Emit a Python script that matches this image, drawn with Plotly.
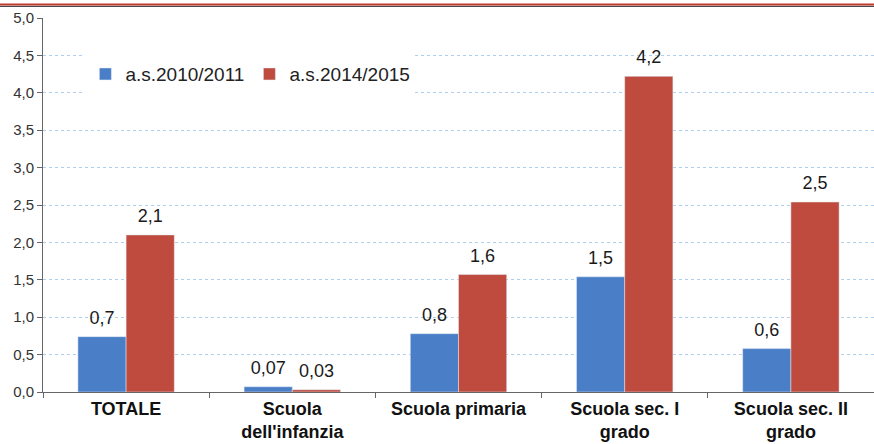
import plotly.graph_objects as go

categories = ["TOTALE", "Scuola<br>dell'infanzia", "Scuola primaria", "Scuola sec. I<br>grado", "Scuola sec. II<br>grado"]
series_2010 = [0.74, 0.07, 0.78, 1.54, 0.58]
series_2014 = [2.1, 0.03, 1.57, 4.22, 2.54]
labels_2010 = ["0,7", "0,07", "0,8", "1,5", "0,6"]
labels_2014 = ["2,1", "0,03", "1,6", "4,2", "2,5"]
tick_vals = [0, 0.5, 1, 1.5, 2, 2.5, 3, 3.5, 4, 4.5, 5]
tick_text = ["0,0", "0,5", "1,0", "1,5", "2,0", "2,5", "3,0", "3,5", "4,0", "4,5", "5,0"]

font = "Liberation Sans, Arial, sans-serif"
blue = "#4A7EC7"
red = "#BE4B3E"

fig = go.Figure()
fig.add_trace(go.Bar(x=categories, y=series_2010, name="a.s.2010/2011", marker_color=blue))
fig.add_trace(go.Bar(x=categories, y=series_2014, name="a.s.2014/2015", marker_color=red))
# value labels, grouped the same way as the bars
for vals, labs in [(series_2010, labels_2010), (series_2014, labels_2014)]:
    fig.add_trace(go.Scatter(x=categories, y=vals, text=labs, mode="markers+text",
                             textposition="top center", marker=dict(size=12, opacity=0),
                             textfont=dict(size=18, color="#1a1a1a", family=font),
                             showlegend=False, hoverinfo="skip", cliponaxis=False))

fig.update_layout(
    width=874, height=444,
    margin=dict(l=43, r=0, t=18, b=52),
    paper_bgcolor="white", plot_bgcolor="white",
    font=dict(family=font, color="#222"),
    barmode="group", bargap=0.42, bargroupgap=0,
    scattermode="group", scattergap=0.42,
    showlegend=True,
    legend=dict(orientation="h", x=0.051, y=0.85, xanchor="left", yanchor="middle",
                bgcolor="white", font=dict(size=19), itemwidth=30, traceorder="normal"),
    xaxis=dict(showline=True, linecolor="#666", linewidth=1, ticks="outside",
               tickson="boundaries", ticklen=5, tickcolor="#666", automargin=False,
               tickfont=dict(size=18, family=font, color="#111", weight="bold")),
    yaxis=dict(range=[0, 5], tickvals=tick_vals, ticktext=tick_text, automargin=False,
               showline=True, linecolor="#666", linewidth=1, ticks="outside",
               ticklen=5, tickcolor="#666", tickfont=dict(size=15, color="#333"),
               showgrid=True, gridcolor="#AFCFEE", griddash="dot", gridwidth=1,
               zeroline=False),
)
fig.add_shape(type="line", xref="paper", yref="paper", x0=-0.06, x1=1.0, y0=1.036, y1=1.036,
              line=dict(color="#C0392B", width=2))
fig.add_shape(type="line", xref="paper", yref="paper", x0=-0.06, x1=1.0, y0=1.031, y1=1.031,
              line=dict(color="#333", width=1))
fig.write_html("out.html", config={"displayModeBar": False},
               post_script="document.body.style.margin='0';document.body.style.overflow='hidden';")
